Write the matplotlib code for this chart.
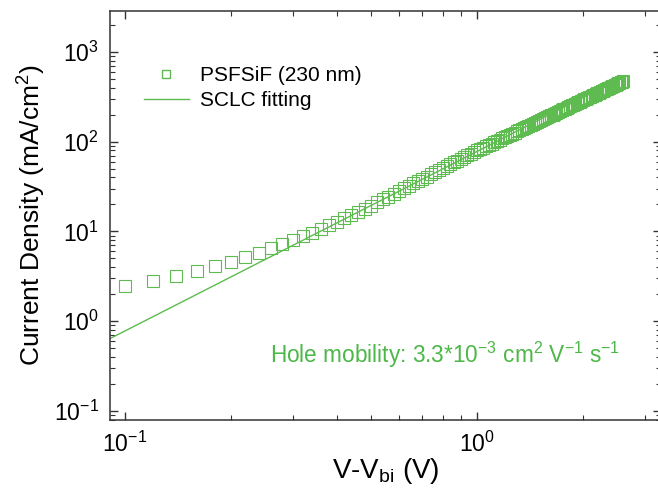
"""
plot.py
-------------------
J-V curve (log-log) of a PSFSiF hole-only device with SCLC fit.
"""

import matplotlib
matplotlib.use('Agg')
import matplotlib.pyplot as plt
from matplotlib.ticker import LogLocator, NullFormatter

plt.rcParams['font.family'] = ['Liberation Sans', 'DejaVu Sans']
plt.rcParams['mathtext.fontset'] = 'custom'
plt.rcParams['mathtext.rm'] = 'Liberation Sans'
plt.rcParams['mathtext.it'] = 'Liberation Sans:italic'
plt.rcParams['mathtext.default'] = 'regular'

voltage = [
    0.10, 0.12, 0.14, 0.16, 0.18, 0.20, 0.22, 0.24, 0.26, 0.28,
    0.30, 0.32, 0.34, 0.36, 0.38, 0.40, 0.42, 0.44, 0.46, 0.48,
    0.50, 0.52, 0.54, 0.56, 0.58, 0.60, 0.62, 0.64, 0.66, 0.68,
    0.70, 0.72, 0.74, 0.76, 0.78, 0.80, 0.82, 0.84, 0.86, 0.88,
    0.90, 0.92, 0.94, 0.96, 0.98, 1.00, 1.02, 1.04, 1.06, 1.08,
    1.10, 1.12, 1.14, 1.16, 1.18, 1.20, 1.22, 1.24, 1.26, 1.28,
    1.30, 1.32, 1.34, 1.36, 1.38, 1.40, 1.42, 1.44, 1.46, 1.48,
    1.50, 1.52, 1.54, 1.56, 1.58, 1.60, 1.62, 1.64, 1.66, 1.68,
    1.70, 1.72, 1.74, 1.76, 1.78, 1.80, 1.82, 1.84, 1.86, 1.88,
    1.90, 1.92, 1.94, 1.96, 1.98, 2.00, 2.02, 2.04, 2.06, 2.08,
    2.10, 2.12, 2.14, 2.16, 2.18, 2.20, 2.22, 2.24, 2.26, 2.28,
    2.30, 2.32, 2.34, 2.36, 2.38, 2.40, 2.42, 2.44, 2.46, 2.48,
    2.50, 2.52, 2.54, 2.56, 2.58, 2.60,
]
current = [
    2.46, 2.79, 3.17, 3.60, 4.08, 4.60, 5.17, 5.80, 6.48, 7.20,
    7.98, 8.82, 9.72, 10.7, 11.7, 12.8, 14.0, 15.2, 16.4, 17.9,
    19.4, 21.1, 22.8, 24.5, 26.3, 28.2, 30.2, 32.2, 34.3, 36.4,
    38.6, 40.9, 43.3, 45.7, 48.2, 50.7, 53.4, 56.1, 58.8, 61.6,
    64.5, 67.5, 70.5, 73.6, 76.8, 80.0, 83.0, 86.1, 89.2, 92.3,
    95.5, 98.8, 102.1, 105.5, 108.9, 112.3, 115.9, 119.4, 123.0, 126.7,
    130.4, 134.1, 138.0, 141.8, 145.7, 149.7, 153.7, 157.7, 161.8, 166.0,
    170.2, 174.4, 178.8, 183.1, 187.5, 191.9, 196.4, 201.0, 205.6, 210.2,
    214.9, 219.6, 224.4, 229.2, 234.1, 239.0, 244.0, 249.0, 254.1, 259.2,
    264.3, 269.5, 274.8, 280.0, 285.4, 290.8, 296.3, 301.7, 307.3, 312.9,
    318.4, 324.1, 329.8, 335.6, 341.4, 347.3, 353.2, 359.2, 365.2, 371.2,
    377.3, 383.4, 389.6, 395.8, 402.0, 408.4, 414.7, 421.1, 427.6, 434.1,
    440.6, 447.2, 453.9, 460.5, 467.2, 474.0,
]

# SCLC fit line (J ~ V^2), end points
fit_v = [0.09, 2.6]
fit_j = [0.63, 527.0]

mark_color = '#5DBB4F'
text_color = '#4CB848'
spine_color = '#333333'

fig = plt.figure(figsize=(6.58, 4.92), dpi=100)
ax = fig.add_axes([0.167, 0.146, 0.838, 0.832])

ax.plot(voltage, current, ls='none', marker='s', ms=8.8, mfc='none',
        mec=mark_color, mew=0.8, label='PSFSiF (230 nm)')
ax.plot(fit_v, fit_j, color=mark_color, lw=1.0, label='SCLC fitting')

ax.set_xscale('log')
ax.set_yscale('log')
ax.set_xlim(0.0906, 3.34)
ax.set_ylim(0.0788, 2880)

ax.xaxis.set_major_locator(LogLocator(base=10))
ax.yaxis.set_major_locator(LogLocator(base=10))
ax.xaxis.set_minor_locator(LogLocator(base=10, subs=range(2, 10)))
ax.yaxis.set_minor_locator(LogLocator(base=10, subs=range(2, 10)))
ax.xaxis.set_minor_formatter(NullFormatter())
ax.yaxis.set_minor_formatter(NullFormatter())

ax.tick_params(which='both', direction='in', top=True, right=True,
               color=spine_color, labelsize=16.5)
ax.tick_params(which='major', length=6, width=1.0, pad=8)
ax.tick_params(which='minor', length=3.5, width=0.8)
for sp in ax.spines.values():
    sp.set_color(spine_color)
    sp.set_linewidth(1.1)

ax.set_xlabel('V-V$_{bi}$ (V)', fontsize=20, labelpad=0)
ax.set_ylabel('Current Density (mA/cm$^{2}$)', fontsize=19, labelpad=4)

leg = ax.legend(loc='upper left', bbox_to_anchor=(0.027, 0.911), frameon=False,
                fontsize=15, markerscale=0.7, handlelength=2.2,
                handletextpad=0.5, labelspacing=0.3, borderpad=0.4)
leg.legend_handles[0].set_markeredgewidth(1.0)

ax.text(0.291, 0.159, 'Hole mobility: 3.3*10$^{-3}$ cm$^{2}$ V$^{-1}$ s$^{-1}$',
        transform=ax.transAxes, color=text_color, fontsize=16.3, va='center')

fig.savefig('out.png', dpi=100)
